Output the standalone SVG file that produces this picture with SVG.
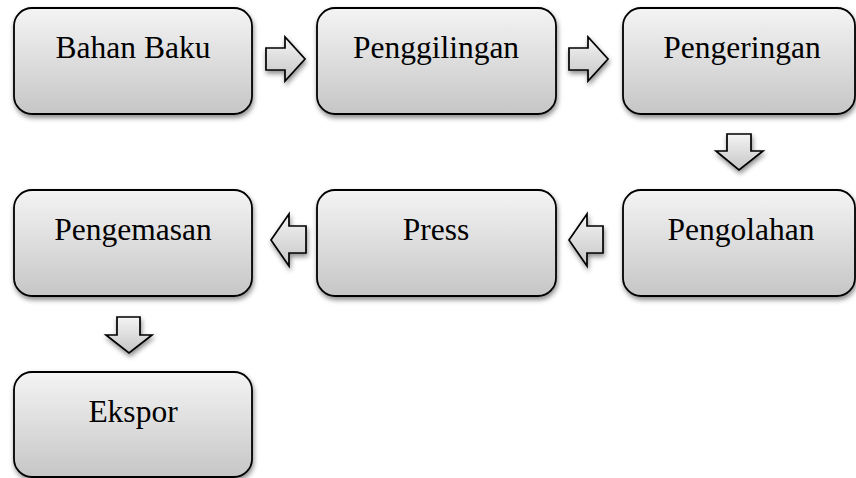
<svg xmlns="http://www.w3.org/2000/svg" width="856" height="478" viewBox="0 0 856 478">
<defs>
<linearGradient id="g" x1="0" y1="0" x2="0" y2="1">
<stop offset="0" stop-color="#f4f4f4"/>
<stop offset="1" stop-color="#c6c6c6"/>
</linearGradient>
<filter id="sh" x="-20%" y="-20%" width="140%" height="150%">
<feDropShadow dx="1" dy="3" stdDeviation="2.5" flood-color="#000" flood-opacity="0.45"/>
</filter>
</defs>
<style>
.box{fill:url(#g);stroke:#000;stroke-width:1.8;filter:url(#sh)}
.arr{fill:url(#g);stroke:#000;stroke-width:1.7;stroke-linejoin:miter;filter:url(#sh)}
.lbl{font-family:"Liberation Serif","Times New Roman",serif;font-size:31.5px;fill:#000;text-anchor:middle}
</style>
<rect width="856" height="478" fill="#fff"/>
<g id="connectors">
<path class="arr" d="M266,48 H285 V37 L305,59 L285,81 V70 H266 Z"/>
<path class="arr" d="M569,48 H588 V37 L608,59 L588,81 V70 H569 Z"/>
<path class="arr" d="M727,134 H751 V151 H763 L739,170 L716,151 H727 Z"/>
<path class="arr" d="M603,226 H587 V214 L569,240 L587,266 V253 H603 Z"/>
<path class="arr" d="M306,226 H289 V214 L271,240 L289,266 V253 H306 Z"/>
<path class="arr" d="M117,317 H140 V335 H152 L129,353 L106,335 H117 Z"/>
</g>
<g id="bahan-baku">
<rect class="box" x="14" y="8" width="238" height="106" rx="18"/>
<text class="lbl" x="133" y="58">Bahan Baku</text>
</g>
<g id="penggilingan">
<rect class="box" x="317" y="8" width="239" height="106" rx="18"/>
<text class="lbl" x="436" y="58">Penggilingan</text>
</g>
<g id="pengeringan">
<rect class="box" x="623" y="8" width="232" height="106" rx="18"/>
<text class="lbl" x="742" y="58">Pengeringan</text>
</g>
<g id="pengolahan">
<rect class="box" x="623" y="190" width="232" height="106" rx="18"/>
<text class="lbl" x="741" y="240">Pengolahan</text>
</g>
<g id="press">
<rect class="box" x="317" y="190" width="239" height="106" rx="18"/>
<text class="lbl" x="436" y="240">Press</text>
</g>
<g id="pengemasan">
<rect class="box" x="14" y="190" width="238" height="106" rx="18"/>
<text class="lbl" x="133" y="240">Pengemasan</text>
</g>
<g id="ekspor">
<rect class="box" x="14" y="372" width="238" height="105" rx="18"/>
<text class="lbl" x="133" y="422">Ekspor</text>
</g>
</svg>
